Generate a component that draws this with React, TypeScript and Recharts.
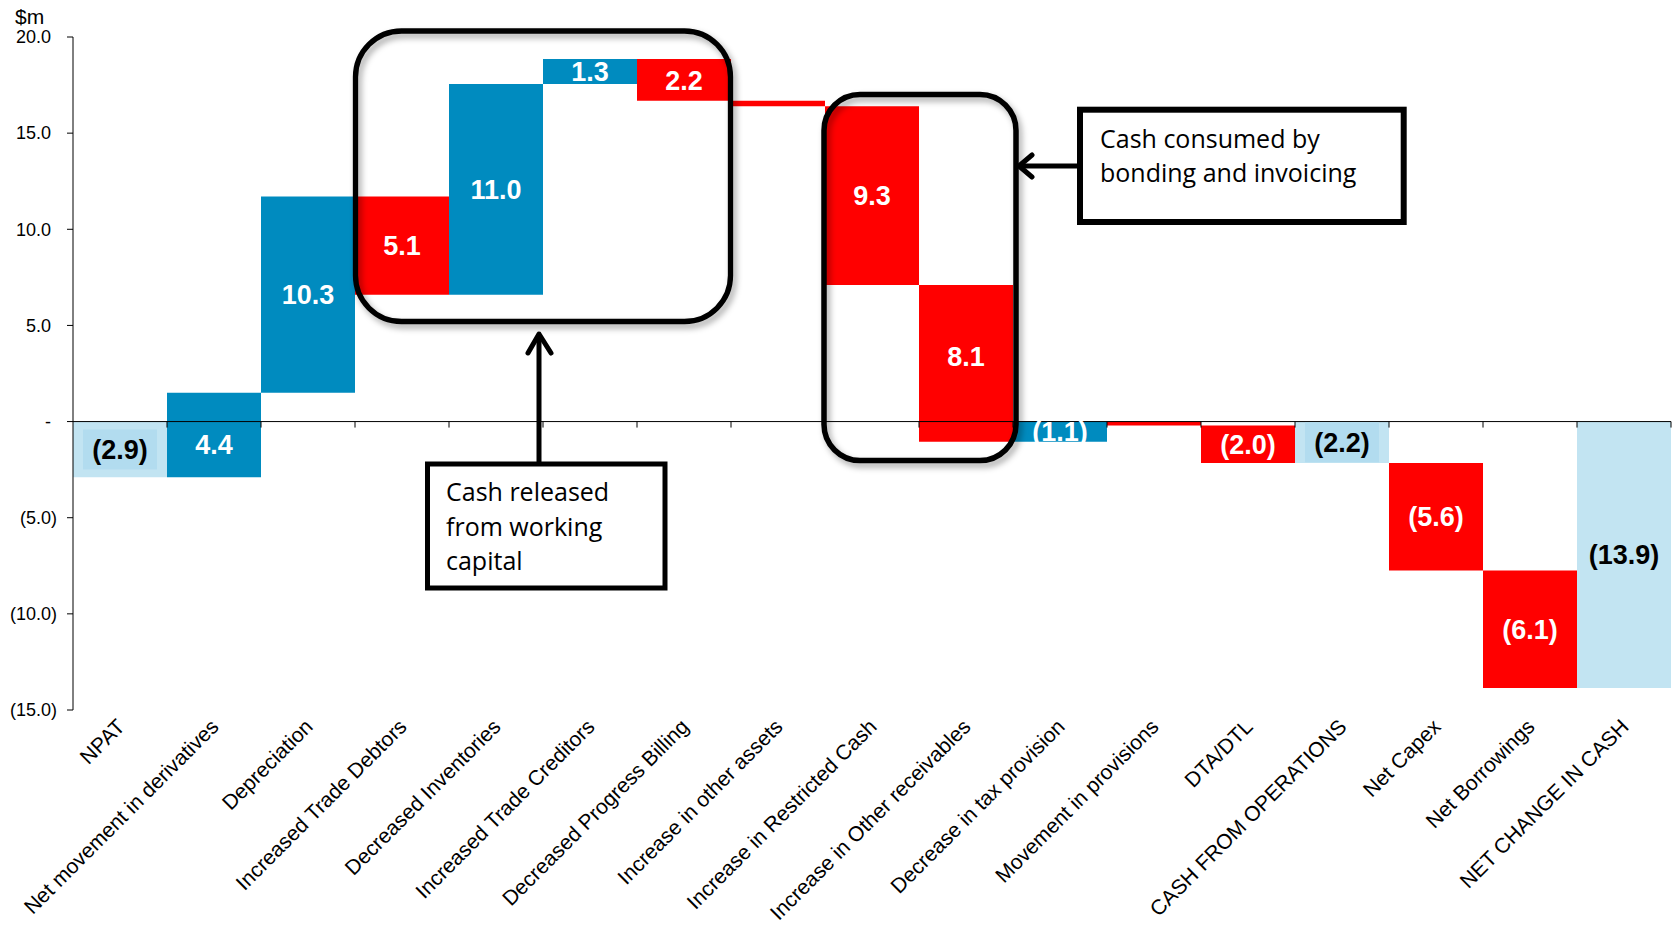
import React from 'react';
import { BarChart, Bar, XAxis, YAxis, Cell, ReferenceLine, LabelList } from 'recharts';

const categories = [
  'NPAT',
  'Net movement in derivatives',
  'Depreciation',
  'Increased Trade Debtors',
  'Decreased Inventories',
  'Increased Trade Creditors',
  'Decreased Progress Billing',
  'Increase in other assets',
  'Increase in Restricted Cash',
  'Increase in Other receivables',
  'Decrease in tax provision',
  'Movement in provisions',
  'DTA/DTL',
  'CASH FROM OPERATIONS',
  'Net Capex',
  'Net Borrowings',
  'NET CHANGE IN CASH',
];

// bottom and top of each floating bar ($m)
const barLow = [-2.9, -2.9, 1.5, 6.6, 6.6, 17.55, 16.68, 16.4, 7.1, -1.05, -1.05, -0.2, -2.15, -2.15, -7.75, -13.85, -13.85];
const barHigh = [0, 1.5, 11.7, 11.7, 17.55, 18.85, 18.85, 16.68, 16.4, 7.1, 0, 0, -0.2, 0, -2.15, -7.75, 0];

const barLabels = ['(2.9)', '4.4', '10.3', '5.1', '11.0', '1.3', '2.2', '', '9.3', '8.1', '(1.1)', '', '(2.0)', '(2.2)', '(5.6)', '(6.1)', '(13.9)'];

// 'up' = increase, 'down' = decrease, 'total' = subtotal
const barKinds = ['total', 'up', 'up', 'down', 'up', 'up', 'down', 'down', 'down', 'down', 'up', 'down', 'down', 'total', 'down', 'down', 'total'];

const yTicks = [-15, -10, -5, 0, 5, 10, 15, 20];

const COLORS: Record<string, string> = { up: '#008BBF', down: '#FF0000', total: '#C2E4F2' };
const boxedLabels = new Set(['NPAT', 'CASH FROM OPERATIONS']);

const data = categories.map((name, i) => ({
  name,
  range: [barLow[i], barHigh[i]],
  label: barLabels[i],
  kind: barKinds[i],
  low: barLow[i],
  high: barHigh[i],
}));

const ARIAL = '"Liberation Sans", Arial, sans-serif';
const CALIBRI = '"Open Sans", "Noto Sans", sans-serif';

const YTick = (props: any) => {
  const { x, y, payload } = props;
  const v = payload.value as number;
  const txt = v === 0 ? '-' : v < 0 ? `(${Math.abs(v).toFixed(1)})` : v.toFixed(1);
  const dx = v < 0 ? 0 : -6;
  return (
    <text x={x + dx} y={y} dy="0.35em" textAnchor="end" fontSize={18} fontFamily={ARIAL} fill="#000">
      {txt}
    </text>
  );
};

const XTick = (props: any) => {
  const { x, y, payload } = props;
  return (
    <g transform={`translate(${x + 6},${y + 18})`}>
      <text x={0} y={0} textAnchor="end" transform="rotate(-45)" fontSize={21} fontFamily={ARIAL} fill="#000">
        {payload.value}
      </text>
    </g>
  );
};

const BarLabel = (props: any) => {
  const { x, y, width, height, index, value } = props;
  const item = data[index] ?? data.find((d) => d.label === value);
  if (!item || !item.label) return null;
  const cx = x + width / 2;
  const top = Math.min(y, y + height);
  const h = Math.abs(height);
  let cy = top + h / 2;
  // bars that cross zero: centre the label on the larger part (as the stacked original does)
  if (item.low < 0 && item.high > 0) {
    const zeroY = top + h * (item.high / (item.high - item.low));
    const part = item.high >= -item.low ? (top + zeroY) / 2 : (zeroY + top + h) / 2;
    cy = (part * 2 + cy) / 3;
  }
  const isTotal = item.kind === 'total';
  return (
    <g>
      {isTotal && boxedLabels.has(item.name) ? (
        <rect x={cx - 37} y={cy - 20} width={74} height={40} fill="#B2DCEF" />
      ) : null}
      <text
        x={cx}
        y={cy}
        dy="0.36em"
        textAnchor="middle"
        fontSize={27}
        fontWeight="bold"
        fontFamily={ARIAL}
        fill={isTotal ? '#000' : '#fff'}
      >
        {item.label}
      </text>
    </g>
  );
};

const ZeroAxis = (props: any) => {
  const x1 = Number(props.x1);
  const x2 = Number(props.x2);
  const y = Number(props.y1);
  const n = categories.length;
  const step = (x2 - x1) / n;
  const ticks = [];
  for (let i = 1; i <= n; i++) {
    const tx = x1 + step * i;
    ticks.push(<line key={i} x1={tx} x2={tx} y1={y} y2={y + 6} stroke="#000" strokeWidth={1} />);
  }
  return (
    <g>
      <line x1={x1} x2={x2} y1={y} y2={y} stroke="#000" strokeWidth={1} />
      {ticks}
    </g>
  );
};

const Annotations = () => (
  <svg
    width={1673}
    height={925}
    style={{ position: 'absolute', left: 0, top: 0, pointerEvents: 'none' }}
  >
    <defs>
      <filter id="boxShadow" x="-10%" y="-10%" width="130%" height="130%">
        <feDropShadow dx="3" dy="4" stdDeviation="3" floodColor="#000" floodOpacity="0.35" />
      </filter>
    </defs>
    {/* working capital group */}
    <rect x={355.5} y={31} width={375} height={290.5} rx={46} ry={46} fill="none" stroke="#000" strokeWidth={5.3} filter="url(#boxShadow)" />
    {/* bonding and invoicing group */}
    <rect x={824} y={94.5} width={192} height={366} rx={36} ry={36} fill="none" stroke="#000" strokeWidth={5.5} filter="url(#boxShadow)" />

    {/* arrow 1 */}
    <line x1={539} y1={336} x2={539} y2={464} stroke="#000" strokeWidth={5} />
    <polyline points="528,353 539,334 551,353" fill="none" stroke="#000" strokeWidth={5} strokeLinejoin="round" strokeLinecap="round" />
    {/* text box 1 */}
    <rect x={427.5} y={464} width={237.5} height={124} fill="#fff" stroke="#000" strokeWidth={5} />
    <text fontSize={25} fontFamily={CALIBRI} fill="#000">
      <tspan x={446} y={501}>Cash released</tspan>
      <tspan x={446} y={535.5}>from working</tspan>
      <tspan x={446} y={570}>capital</tspan>
    </text>

    {/* arrow 2 */}
    <line x1={1021} y1={166} x2={1080} y2={166} stroke="#000" strokeWidth={5} />
    <polyline points="1032,155 1019,166 1032,177" fill="none" stroke="#000" strokeWidth={5} strokeLinejoin="round" strokeLinecap="round" />
    {/* text box 2 */}
    <rect x={1080} y={109.7} width={323.7} height={112.3} fill="#fff" stroke="#000" strokeWidth={6} />
    <text fontSize={25} fontFamily={CALIBRI} fill="#000">
      <tspan x={1100} y={148}>Cash consumed by</tspan>
      <tspan x={1100} y={182}>bonding and invoicing</tspan>
    </text>

    {/* unit label */}
    <text x={15} y={24} fontSize={21} fontFamily={ARIAL} fill="#000">$m</text>
  </svg>
);

export default function App() {
  return (
    <div style={{ position: 'absolute', left: 0, top: 0, width: 1673, height: 925, background: '#fff' }}>
      <BarChart
        width={1673}
        height={925}
        data={data}
        margin={{ top: 37, right: 2, left: 13, bottom: 0 }}
        barCategoryGap={0}
        barGap={0}
      >
        <XAxis
          dataKey="name"
          interval={0}
          height={215}
          axisLine={false}
          tickLine={false}
          tickSize={0}
          tickMargin={0}
          tick={<XTick />}
        />
        <YAxis
          width={60}
          domain={[-15, 20]}
          ticks={yTicks}
          allowDataOverflow
          stroke="#000"
          tickSize={6}
          tickMargin={10}
          tick={<YTick />}
        />
        <Bar dataKey="range" isAnimationActive={false}>
          {data.map((d, i) => (
            <Cell key={i} fill={COLORS[d.kind]} />
          ))}
          <LabelList dataKey="label" content={<BarLabel />} />
        </Bar>
        <ReferenceLine y={0} stroke="#000" shape={(p: any) => <ZeroAxis {...p} />} />
      </BarChart>
      <Annotations />
    </div>
  );
}
